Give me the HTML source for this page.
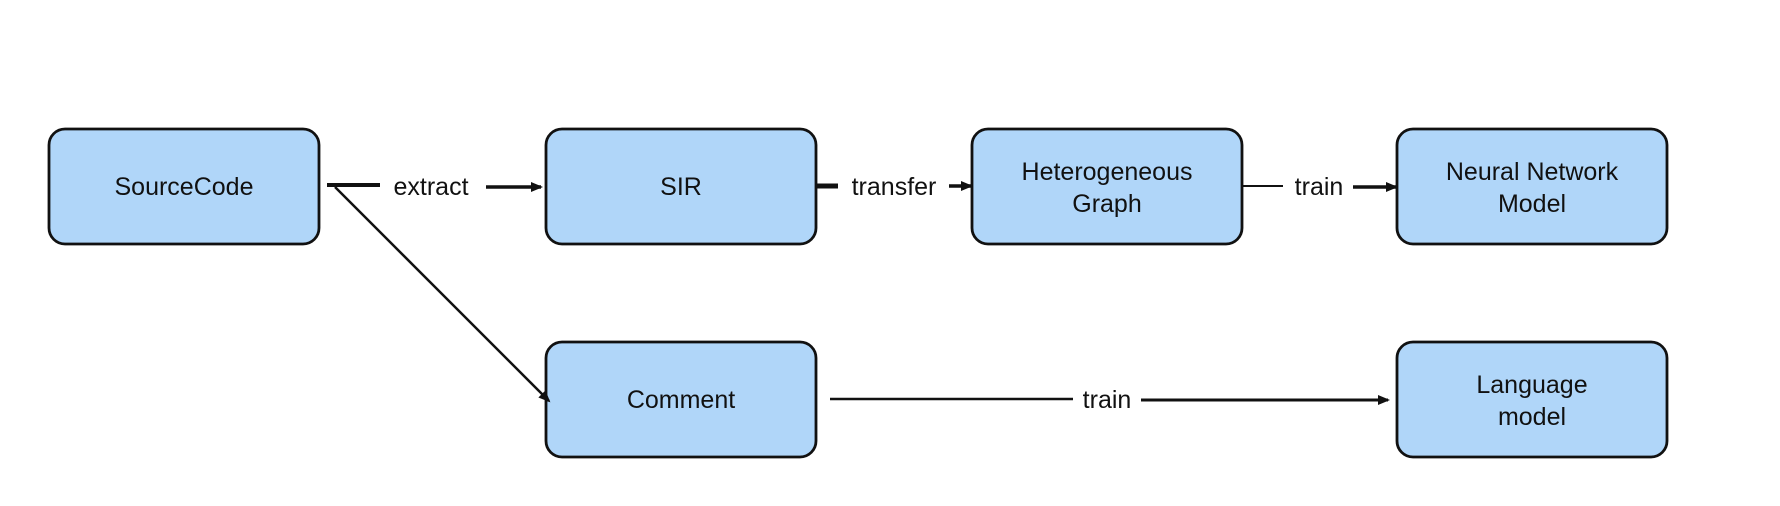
<!DOCTYPE html>
<html><head><style>
html,body{margin:0;padding:0;background:#fff;}
svg{display:block;}
text{font-family:"Liberation Sans",sans-serif;font-size:25px;fill:#111;}
</style></head><body>
<svg width="1780" height="506" viewBox="0 0 1780 506" xmlns="http://www.w3.org/2000/svg">
<defs>
<marker id="a" markerWidth="12" markerHeight="12" refX="10" refY="6" orient="auto" markerUnits="userSpaceOnUse">
<path d="M0,1 L12,6 L0,11 z" fill="#111"/></marker>
</defs>
<g fill="#b0d6f9" stroke="#111" stroke-width="2.8">
<rect x="49" y="129" width="270" height="115" rx="16"/>
<rect x="546" y="129" width="270" height="115" rx="16"/>
<rect x="972" y="129" width="270" height="115" rx="16"/>
<rect x="1397" y="129" width="270" height="115" rx="16"/>
<rect x="546" y="342" width="270" height="115" rx="16"/>
<rect x="1397" y="342" width="270" height="115" rx="16"/>
</g>
<g stroke="#111" fill="none">
<line x1="327" y1="185" x2="380" y2="185" stroke-width="4"/>
<line x1="486" y1="187" x2="541" y2="187" stroke-width="3.5" marker-end="url(#a)"/>
<line x1="335" y1="187" x2="549" y2="401" stroke-width="2.5" marker-end="url(#a)"/>
<line x1="816" y1="186" x2="838" y2="186" stroke-width="5"/>
<line x1="949" y1="186" x2="971" y2="186" stroke-width="3.5" marker-end="url(#a)"/>
<line x1="1242" y1="186" x2="1283" y2="186" stroke-width="2"/>
<line x1="1353" y1="187" x2="1396" y2="187" stroke-width="3.5" marker-end="url(#a)"/>
<line x1="830" y1="399" x2="1073" y2="399" stroke-width="2.5"/>
<line x1="1141" y1="400" x2="1388" y2="400" stroke-width="3" marker-end="url(#a)"/>
</g>
<g text-anchor="middle">
<text x="184" y="195">SourceCode</text>
<text x="431" y="195">extract</text>
<text x="681" y="195">SIR</text>
<text x="894" y="195">transfer</text>
<text x="1107" y="180">Heterogeneous</text>
<text x="1107" y="212">Graph</text>
<text x="1319" y="195">train</text>
<text x="1532" y="180">Neural Network</text>
<text x="1532" y="212">Model</text>
<text x="681" y="408">Comment</text>
<text x="1107" y="408">train</text>
<text x="1532" y="393">Language</text>
<text x="1532" y="425">model</text>
</g>
</svg>
</body></html>
